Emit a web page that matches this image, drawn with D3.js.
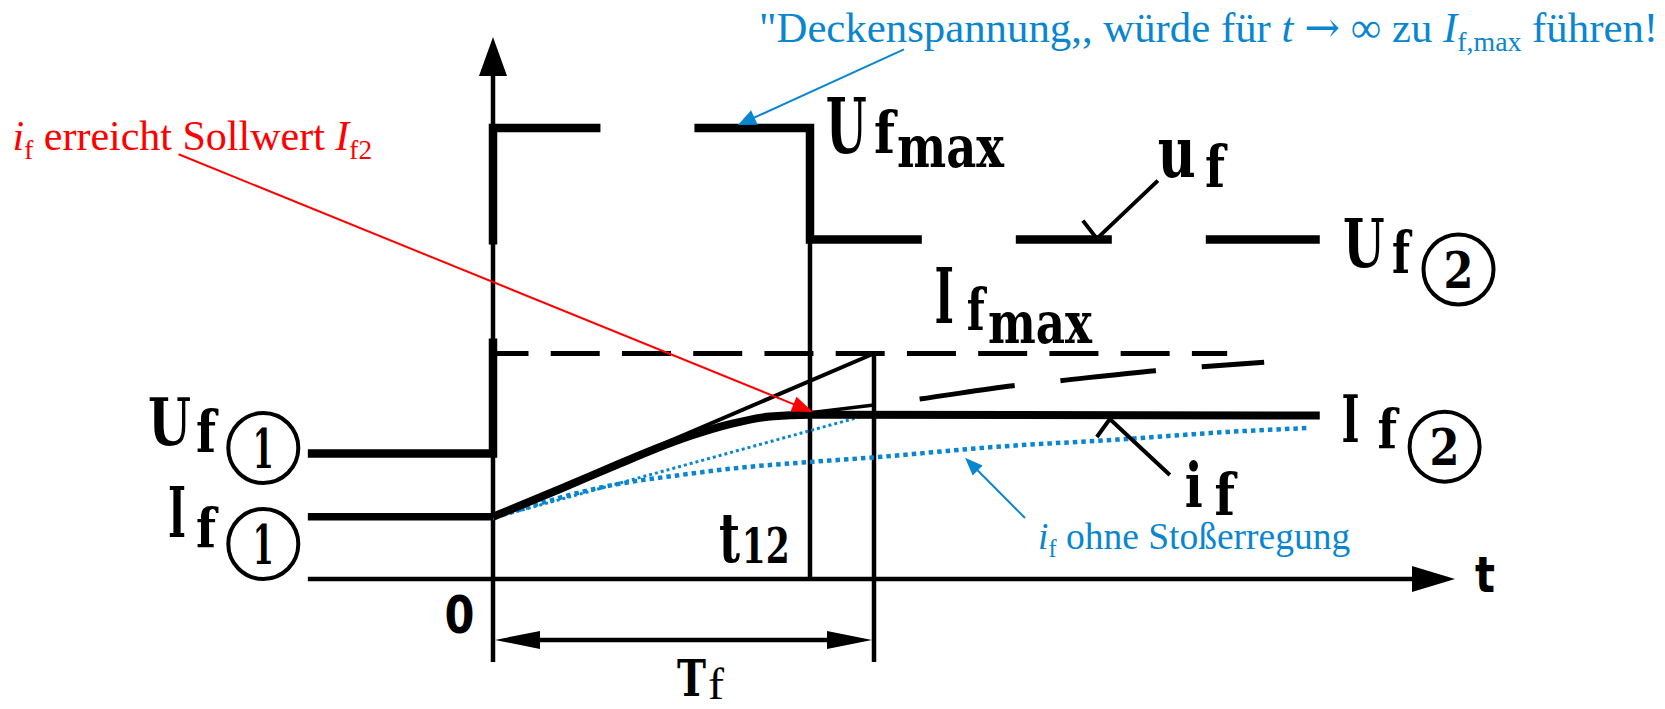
<!DOCTYPE html>
<html>
<head>
<meta charset="utf-8">
<script src="https://cdn.jsdelivr.net/npm/d3@7"></script>
<style>
  html, body { margin: 0; padding: 0; background: #ffffff; }
  svg { display: block; }
  text { white-space: pre; }
</style>
</head>
<body>
<svg id="chart" width="1665" height="709"></svg>
<script>
// Time is given in units of the field time constant Tf, levels in relative units
// (If,max = 1, Uf,max = 2).

// excitation voltage u_f: step from Uf1 up to the ceiling voltage, back to Uf2 at t12
const ufStep = [[-0.486, 0.557], [0, 0.557], [0, 2.0], [0.832, 2.0], [0.832, 1.505], [2.17, 1.505]];
// field current before the step
const if1Line = [[-0.486, 0.276], [0, 0.276]];
// field current with boost excitation, reaching If2 at t12 and held there
const ifBoost = [[0, 0.276], [0.176, 0.399], [0.333, 0.512], [0.425, 0.5765], [0.517, 0.634],
                 [0.622, 0.687], [0.727, 0.7206], [0.832, 0.728], [2.17, 0.725]];
// the same response left running towards If,max
const ifFree = [[0.832, 0.737], [1.0, 0.772], [1.115, 0.797], [1.365, 0.857], [1.486, 0.879],
                [1.738, 0.924], [1.861, 0.9415], [2.024, 0.961]];
// field current without boost excitation and its initial tangent
const ifNoBoost = [[0, 0.2705], [0.315, 0.417], [0.491, 0.461], [0.667, 0.4967], [0.832, 0.519],
                   [0.997, 0.539], [1.312, 0.585], [1.664, 0.621], [1.927, 0.652], [2.144, 0.670]];
const noBoostTangent = [[0, 0.2705], [1.0, 0.736]];
// initial tangent of the boosted response, reaching If,max after Tf
const boostTangent = [[0, 0.276], [1.0, 1.0]];
const ifMaxLine = [[0, 1.0], [1.927, 1.0]];

const t12 = 0.832, tF = 1.0;
const uf2 = 1.505, if2 = 0.725;
const axisT = [-0.486, 2.525];
const axisV = [-0.368, 2.404];
const dimV = -0.27;

const BLUE = "#0a86d0", RED = "#ff0000";

const svg = d3.select("#chart");
const x = d3.scaleLinear().domain([0, 1]).range([493, 874]);
const y = d3.scaleLinear().domain([0, 2]).range([579, 128]);

const straight = d3.line().x(d => x(d[0])).y(d => y(d[1]));
const smooth = d3.line().x(d => x(d[0])).y(d => y(d[1])).curve(d3.curveMonotoneX);

function path(data, gen, color, width, dash, offset) {
  const p = svg.append("path").datum(data).attr("d", gen)
    .attr("fill", "none").attr("stroke", color).attr("stroke-width", width)
    .attr("stroke-linejoin", "miter").attr("stroke-linecap", "butt");
  if (dash) p.attr("stroke-dasharray", dash);
  if (offset) p.attr("stroke-dashoffset", offset);
  return p;
}

// arrow line with a filled triangular head at tip
function arrow(from, tip, len, hw, color, width) {
  const dx = tip[0] - from[0], dy = tip[1] - from[1], L = Math.hypot(dx, dy);
  const ux = dx / L, uy = dy / L;
  const bx = tip[0] - ux * len, by = tip[1] - uy * len;
  if (width > 0) {
    svg.append("line").attr("x1", from[0]).attr("y1", from[1]).attr("x2", bx + ux * 2).attr("y2", by + uy * 2)
      .attr("stroke", color).attr("stroke-width", width);
  }
  svg.append("polygon")
    .attr("points", [[tip[0], tip[1]], [bx - uy * hw, by + ux * hw], [bx + uy * hw, by - ux * hw]].map(p => p.join(",")).join(" "))
    .attr("fill", color);
}

// ---- axes
arrow([x(0), y(axisV[0])], [x(0), y(axisV[1])], 39, 14, "#000", 4.5);
arrow([x(axisT[0]), y(0)], [x(axisT[1]), y(0)], 43, 13, "#000", 4.5);

// ---- helper verticals at t12 and Tf
path([[t12, uf2], [t12, 0]], straight, "#000", 4.5);
path([[tF, 1.0], [tF, axisV[0]]], straight, "#000", 4.5);

// ---- Tf dimension
const yd = y(dimV);
svg.append("line").attr("x1", x(0) + 20).attr("x2", x(tF) - 20).attr("y1", yd).attr("y2", yd)
  .attr("stroke", "#000").attr("stroke-width", 4.5);
arrow([x(tF) - 20, yd], [x(0) + 2, yd], 45, 9, "#000", 0);
arrow([x(0) + 20, yd], [x(tF) - 2, yd], 45, 9, "#000", 0);

// ---- If,max level and tangents
path(ifMaxLine, straight, "#000", 5, "49,22.24", 13.5);
path(boostTangent, straight, "#000", 4);

// ---- field current without boost (blue dotted)
path(noBoostTangent, straight, BLUE, 3, "3,3");
path(ifNoBoost, smooth, BLUE, 4.5, "4.5,4");

// ---- free-running response towards If,max
path(ifFree.filter(d => d[0] <= tF), smooth, "#000", 3.5);
path(ifFree.filter(d => d[0] >= tF), smooth, "#000", 5, "96,46", 96);

// ---- field voltage and field current
path(ufStep, straight, "#000", 8.5, "300,94,224,94,339,94,96,94,200");
path(if1Line, straight, "#000", 7.5);
path(ifBoost, smooth, "#000", 8);

// ---- leader lines for u_f and i_f
function leader(tip, barb, far) {
  svg.append("polyline")
    .attr("points", [[tip[0] + barb[0], tip[1] + barb[1]], tip, [tip[0] + far[0], tip[1] + far[1]]].map(p => p.join(",")).join(" "))
    .attr("fill", "none").attr("stroke", "#000").attr("stroke-width", 4).attr("stroke-linejoin", "miter");
}
leader([x(1.585), y(uf2) - 1], [-14, -18], [61, -58]);
leader([x(1.619), y(if2) + 3.5], [-13, 18], [60, 56]);

// ---- black drawing labels in a narrow slab style: each piece is squeezed to its width
// piece: [text, x, baseline, font size, weight, width, family]
const SERIF = "'DejaVu Serif', serif";
function label(pieces) {
  const g = svg.append("g");
  pieces.forEach(p => {
    const t = g.append("text").attr("font-family", p[6] || SERIF)
      .attr("font-size", p[3]).attr("font-weight", p[4]).attr("fill", "#000").text(p[0]);
    const natural = t.node().getComputedTextLength();
    t.attr("transform", `translate(${p[1]},${p[2]}) scale(${p[5] / natural},1)`);
  });
}
function circled(num, cx, cy, r, size, w) {
  svg.append("circle").attr("cx", cx).attr("cy", cy).attr("r", r)
    .attr("fill", "none").attr("stroke", "#000").attr("stroke-width", 4);
  label([[num, cx - w / 2, cy + size * 0.729 / 2, size, "bold", w]]);
}

label([["U", 825.7, 153.3, 77, "bold", 41], ["f", 874, 153, 57, "bold", 21], ["max", 897, 166.7, 58, "bold", 107]]);
label([["I", 934.6, 323, 77, "bold", 19.5], ["f", 966.8, 330, 58, "bold", 18], ["max", 988, 343, 58, "bold", 104]]);
label([["u", 1157.7, 177, 71, "bold", 38], ["f", 1205, 186.7, 57, "bold", 20]]);

label([["U", 1343, 266.7, 67, "bold", 41.7], ["f", 1392, 273, 57, "bold", 18]]);
circled("2", 1458.5, 269.5, 35, 51, 30);

label([["I", 1341.4, 441.7, 66, "bold", 18], ["f", 1377.5, 448.3, 55, "bold", 19.5]]);
circled("2", 1444.6, 446.7, 35, 51, 30);

label([["i", 1184.7, 507, 61, "bold", 18], ["f", 1214.6, 515, 57, "bold", 20.4]]);

label([["U", 148, 445, 66, "bold", 43], ["f", 196, 451.7, 57, "bold", 20]]);
circled("1", 263.3, 448, 35, 55, 21);

label([["I", 168, 536.7, 69, "bold", 18], ["f", 196, 547, 55, "bold", 20]]);
circled("1", 263.3, 544, 35, 55, 21);

label([["t", 719, 561.7, 70, "bold", 21], ["12", 741.7, 563, 48, "bold", 48]]);
label([["T", 677, 696, 51, "bold", 29], ["f", 708, 699, 44, "normal", 16, "'Liberation Serif', serif"]]);

label([["0", 444.6, 633, 52, "bold", 30, "'DejaVu Sans', sans-serif"]]);
label([["t", 1475, 592, 50, "bold", 20, "'DejaVu Sans', sans-serif"]]);

// ---- coloured notes
const NOTE = "'Liberation Serif', 'Times New Roman', serif";
function note(color, nx, ny, size, parts) {
  const t = svg.append("text").attr("x", nx).attr("y", ny)
    .attr("font-family", NOTE).attr("font-size", size).attr("fill", color);
  parts.forEach(p => {
    const s = t.append("tspan").text(p.s);
    if (p.i) s.attr("font-style", "italic");
    if (p.sub) s.attr("font-size", size * 0.65).attr("dy", size * 0.22);
    if (p.up) s.attr("dy", -size * 0.22);
    if (p.sym) s.attr("font-family", "'DejaVu Serif', serif");
  });
}

note(BLUE, 759, 41.5, 42.8, [
  { s: "\"Deckenspannung,, würde für " }, { s: "t", i: true }, { s: " " }, { s: "→", sym: true },
  { s: " ∞ zu " }, { s: "I", i: true }, { s: "f,max", sub: true }, { s: " führen!", up: true }
]);
arrow([904, 49.3], [738, 125], 18, 8, BLUE, 2);

note(RED, 12.5, 150, 42, [
  { s: "i", i: true }, { s: "f", sub: true }, { s: " erreicht Sollwert ", up: true },
  { s: "I", i: true }, { s: "f2", sub: true }
]);
arrow([178.6, 154.3], [x(t12) + 3, y(if2) - 3.5], 21, 8, RED, 2);

note(BLUE, 1038, 549, 37.5, [
  { s: "i", i: true }, { s: "f", sub: true }, { s: " ohne Stoßerregung", up: true }
]);
arrow([1025, 518], [965, 457.7], 18, 7, BLUE, 2);
</script>
</body>
</html>
